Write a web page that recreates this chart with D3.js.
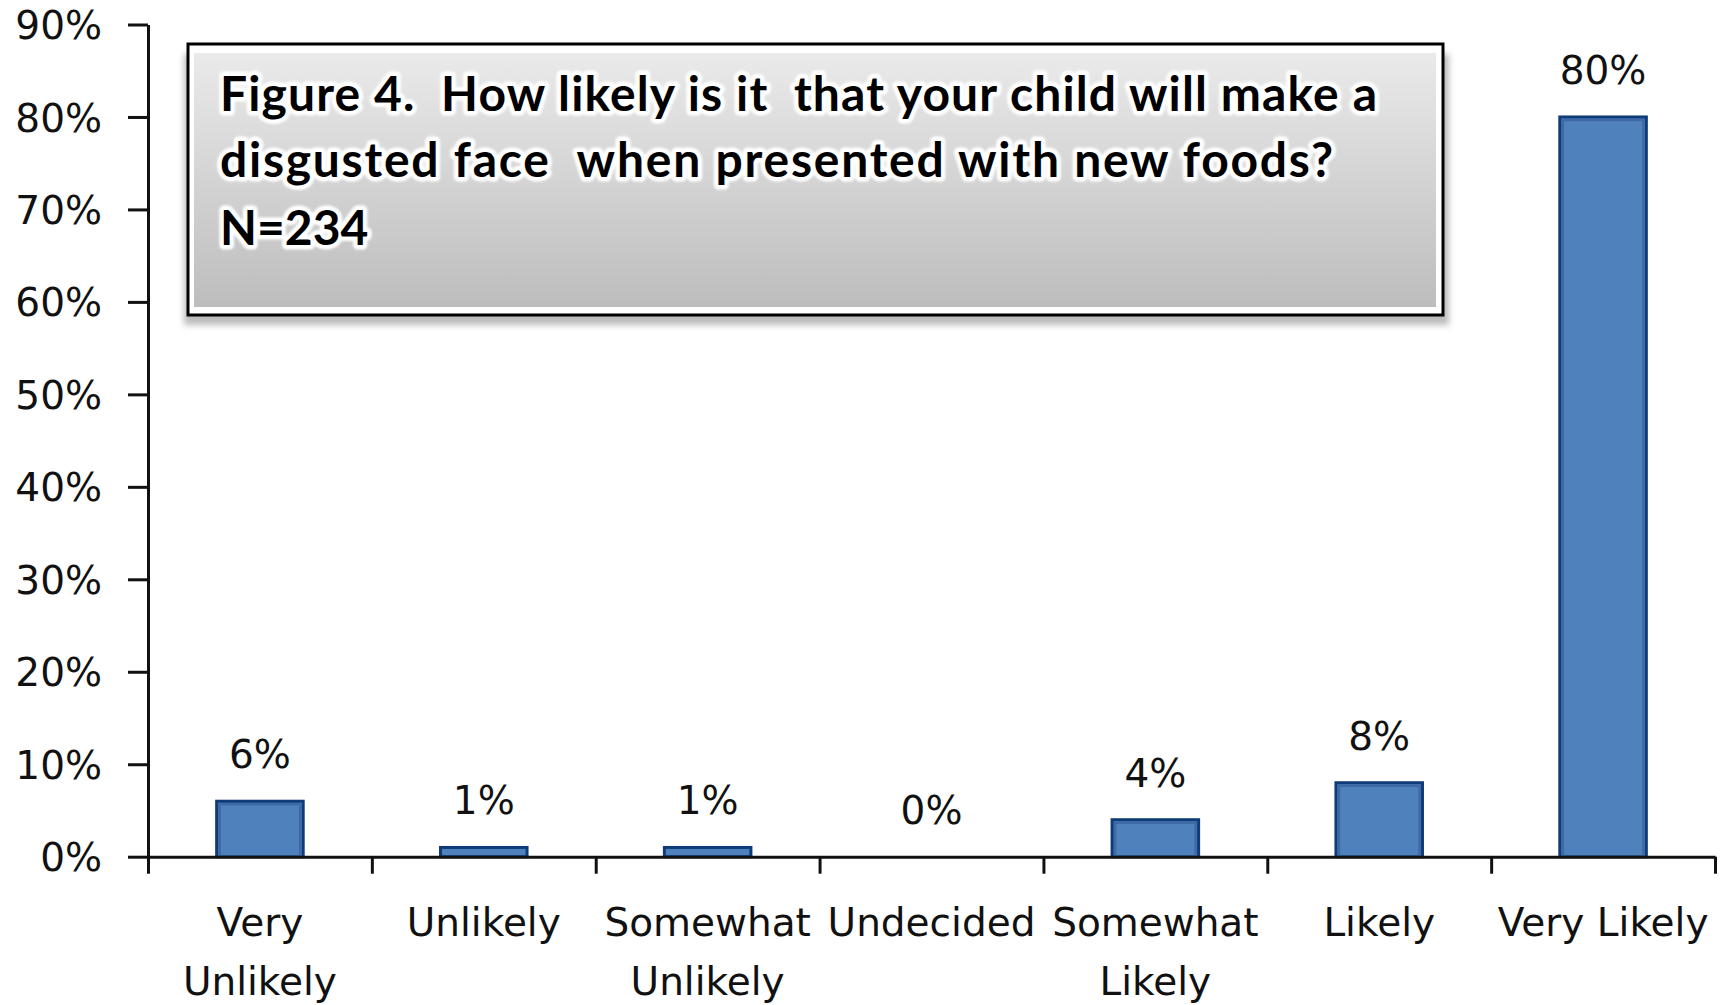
<!DOCTYPE html>
<html>
<head>
<meta charset="utf-8">
<script src="https://cdn.jsdelivr.net/npm/d3@7"></script>
<style>
  html, body { margin: 0; padding: 0; background: #fff; }
  svg { display: block; }
</style>
</head>
<body>
<svg id="chart" width="1727" height="1005"></svg>
<script>
// Survey responses, share of parents per answer
const categories = ["Very Unlikely", "Unlikely", "Somewhat Unlikely", "Undecided", "Somewhat Likely", "Likely", "Very Likely"];
const percents = [6, 1, 1, 0, 4, 8, 80];
const yTickValues = [0, 10, 20, 30, 40, 50, 60, 70, 80, 90];
const titleLines = [
  "Figure 4.  How likely is it  that your child will make a",
  "disgusted face  when presented with new foods?",
  "N=234"
];

const svg = d3.select("#chart");
const labelFont = "'DejaVu Sans', sans-serif";
const axisColor = "#111";

const plot = { left: 148, right: 1715, top: 24.5, bottom: 856.7 };

const y = d3.scaleLinear().domain([0, 90]).range([plot.bottom, plot.top]);
const x = d3.scaleBand().domain(categories)
  .range([plot.left, plot.right])
  .paddingInner(0.6).paddingOuter(0.3);
// category boundaries for the x tick marks
const xEdges = d3.scaleLinear().domain([0, categories.length]).range([plot.left, plot.right]);

// bars: dark outline with a lighter inner rim
const bars = svg.append("g");
bars.selectAll("rect.bar")
  .data(percents)
  .join("rect")
  .attr("class", "bar")
  .attr("x", (d, i) => x(categories[i]) + 1.5)
  .attr("width", x.bandwidth() - 3)
  .attr("y", d => y(d))
  .attr("height", d => y(0) - y(d))
  .attr("fill", "#4f81bd")
  .attr("stroke", "#0f3c78")
  .attr("stroke-width", 3);
bars.selectAll("rect.rim")
  .data(percents.map((d, i) => ({ d, i })).filter(o => o.d >= 2))
  .join("rect")
  .attr("class", "rim")
  .attr("x", o => x(categories[o.i]) + 4.5)
  .attr("width", x.bandwidth() - 9)
  .attr("y", o => y(o.d) + 3)
  .attr("height", o => y(0) - y(o.d) - 3)
  .attr("fill", "none")
  .attr("stroke", "#3d6aa6")
  .attr("stroke-width", 2.5);

// value labels
svg.append("g").selectAll("text")
  .data(percents)
  .join("text")
  .attr("x", (d, i) => x(categories[i]) + x.bandwidth() / 2)
  .attr("y", d => y(d) - 33)
  .attr("text-anchor", "middle")
  .attr("font-family", labelFont)
  .attr("font-size", 39)
  .attr("fill", "#111")
  .text(d => d + "%");

// y axis
const yAxis = svg.append("g")
  .attr("transform", `translate(${plot.left},0)`)
  .call(d3.axisLeft(y).tickValues(yTickValues).tickSizeInner(20).tickSizeOuter(0)
    .tickPadding(26).tickFormat(d => d + "%"));
yAxis.select(".domain").attr("stroke", axisColor).attr("stroke-width", 3);
yAxis.selectAll(".tick line").attr("stroke", axisColor).attr("stroke-width", 3);
yAxis.selectAll(".tick text")
  .attr("font-family", labelFont).attr("font-size", 39).attr("fill", "#111")
  .attr("dy", "0.36em");

// x axis (tick marks at category boundaries)
const xAxis = svg.append("g")
  .attr("transform", `translate(0,${plot.bottom})`)
  .call(d3.axisBottom(xEdges).tickValues(d3.range(categories.length + 1))
    .tickSizeInner(17).tickSizeOuter(0).tickFormat(""));
xAxis.select(".domain").attr("stroke", axisColor).attr("stroke-width", 3);
xAxis.selectAll(".tick line").attr("stroke", axisColor).attr("stroke-width", 3);

// category labels, wrapped to the category width
const catG = svg.append("g");
categories.forEach(c => {
  const t = catG.append("text")
    .attr("text-anchor", "middle")
    .attr("font-family", labelFont)
    .attr("font-size", 39)
    .attr("fill", "#111");
  const cx = x(c) + x.bandwidth() / 2;
  const probe = t.append("tspan").text(c);
  const fits = probe.node().getComputedTextLength() <= x.step();
  probe.remove();
  const lines = fits ? [c] : c.split(" ");
  lines.forEach((ln, k) => {
    t.append("tspan").attr("x", cx).attr("y", 936 + k * 59).text(ln);
  });
});

// title box
const defs = svg.append("defs");
const grad = defs.append("linearGradient").attr("id", "titleFill")
  .attr("x1", 0).attr("y1", 0).attr("x2", 0).attr("y2", 1);
grad.append("stop").attr("offset", "0%").attr("stop-color", "#eaeaea");
grad.append("stop").attr("offset", "100%").attr("stop-color", "#bdbdbd");
defs.append("filter").attr("id", "soft").attr("x", "-10%").attr("y", "-50%").attr("width", "120%").attr("height", "200%")
  .append("feGaussianBlur").attr("stdDeviation", 3);
defs.append("filter").attr("id", "glow").attr("x", "-5%").attr("y", "-30%").attr("width", "110%").attr("height", "160%")
  .append("feGaussianBlur").attr("stdDeviation", 1.2);

const box = { x: 188, y: 44, w: 1255, h: 271 };
svg.append("rect")
  .attr("x", box.x - 4).attr("y", box.y + 10).attr("width", box.w + 10).attr("height", box.h)
  .attr("fill", "#bbb").attr("filter", "url(#soft)");
svg.append("rect")
  .attr("x", box.x).attr("y", box.y).attr("width", box.w).attr("height", box.h)
  .attr("fill", "#fff").attr("stroke", "#000").attr("stroke-width", 3);
svg.append("rect")
  .attr("x", box.x + 6).attr("y", box.y + 9).attr("width", box.w - 13).attr("height", box.h - 17)
  .attr("fill", "url(#titleFill)");

// title lines; the two long lines are spread to the box's text width
const title = svg.append("g")
  .attr("font-family", "Lato, 'Open Sans', sans-serif")
  .attr("font-weight", "bold")
  .attr("font-size", 48);
const baselines = [111, 177, 245];
const lineWidths = [1157, 1113, null];
titleLines.forEach((ln, i) => {
  const txt = ln.replace(/  /g, " \u00A0");
  [["#fff", true], ["#000", false]].forEach(([col, halo]) => {
    const t = title.append("text").attr("x", 220).attr("y", baselines[i])
      .attr("fill", col).text(txt);
    if (lineWidths[i]) t.attr("textLength", lineWidths[i]).attr("lengthAdjust", "spacing");
    if (halo) t.attr("stroke", "#fff").attr("stroke-width", 9)
      .attr("stroke-linejoin", "round").attr("filter", "url(#glow)");
  });
});
</script>
</body>
</html>
